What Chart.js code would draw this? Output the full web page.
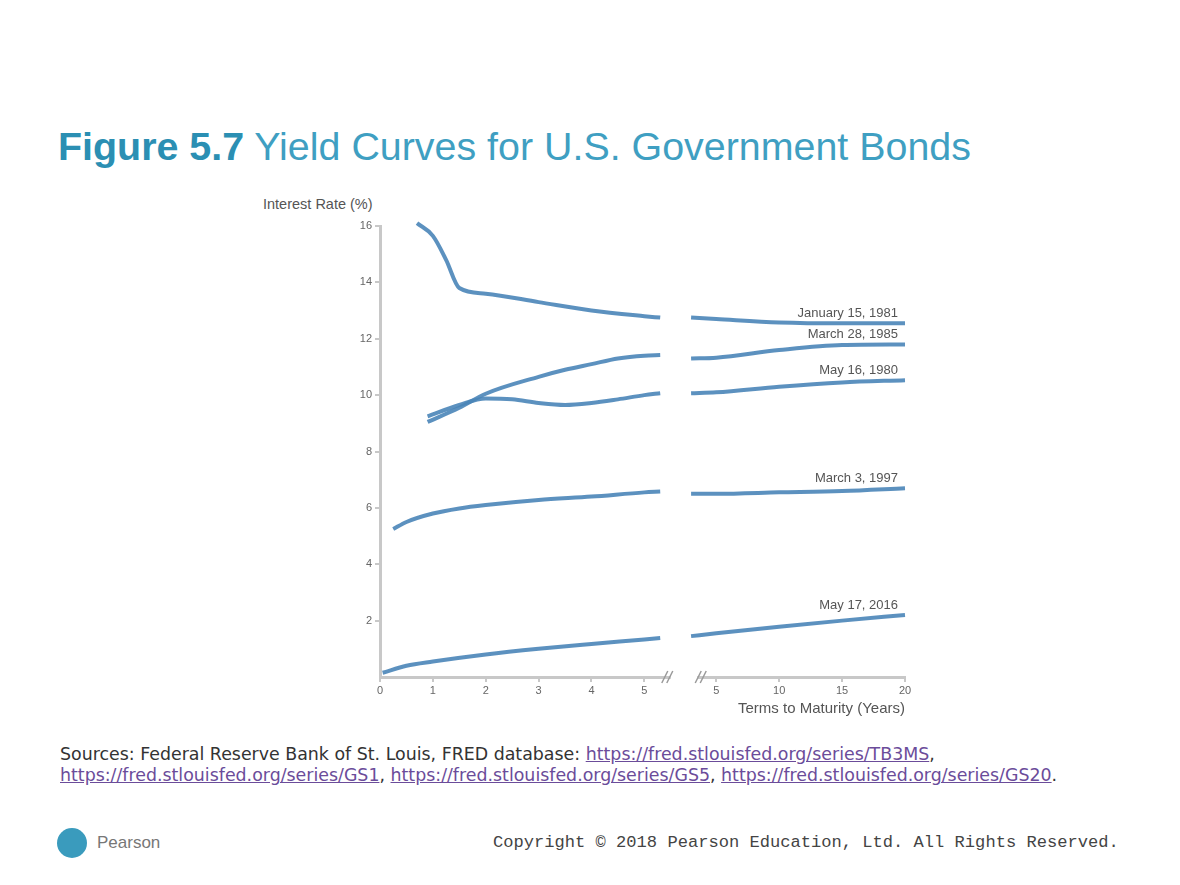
<!DOCTYPE html>
<html>
<head>
<meta charset="utf-8">
<script src="https://cdn.jsdelivr.net/npm/chart.js@4.4.1/dist/chart.umd.min.js"></script>
<style>
body { margin: 0; width: 1180px; height: 885px; background: #fff; position: relative; overflow: hidden; font-family: "Liberation Sans", Arial, sans-serif; }
#title { position: absolute; left: 58px; top: 127px; font-size: 39.4px; line-height: 39px; white-space: nowrap; color: #3f9fc2; }
#title b { color: #2b8fb3; }
#ytitle { position: absolute; left: 263px; top: 196px; font-size: 14.5px; color: #555; white-space: nowrap; }
#chartBox { position: absolute; left: 250px; top: 190px; width: 680px; height: 530px; }
#sources { position: absolute; left: 60px; top: 744px; font-family: "DejaVu Sans", sans-serif; font-size: 17.4px; line-height: 21px; color: #333; white-space: nowrap; }
#sources a { color: #6b4c9a; text-decoration: underline; }
#logo { position: absolute; left: 57px; top: 828px; width: 30px; height: 30px; border-radius: 50%; background: #3a9bbd; }
#pearson { position: absolute; left: 97px; top: 833px; font-size: 17px; color: #777; }
#copyright { position: absolute; left: 493px; top: 833px; font-family: "Liberation Mono", monospace; font-size: 17.1px; color: #444; white-space: nowrap; }
</style>
</head>
<body>
<div id="title"><b>Figure 5.7</b> Yield Curves for U.S. Government Bonds</div>
<div id="ytitle">Interest Rate (%)</div>
<div id="chartBox"><canvas id="yieldChart"></canvas></div>
<div id="sources">Sources: Federal Reserve Bank of St. Louis, FRED database: <a href="#">https://fred.stlouisfed.org/series/TB3MS</a>,<br><a href="#">https://fred.stlouisfed.org/series/GS1</a>, <a href="#">https://fred.stlouisfed.org/series/GS5</a>, <a href="#">https://fred.stlouisfed.org/series/GS20</a>.</div>
<div id="logo"></div>
<div id="pearson">Pearson</div>
<div id="copyright">Copyright © 2018 Pearson Education, Ltd. All Rights Reserved.</div>

<script>
// curve labels, top to bottom
const seriesLabels = ['January 15, 1981', 'March 28, 1985', 'May 16, 1980', 'March 3, 1997', 'May 17, 2016'];

// maturities (years) on the stretched part of the axis, shared by every curve
const farYears = [3, 5, 10, 15, 20];

const jan1981NearYears = [0.7, 1, 1.25, 1.5, 2, 3, 4, 5, 5.3];
const jan1981NearYields = [16.1, 15.65, 14.8, 13.8, 13.6, 13.3, 13.0, 12.8, 12.75];
const jan1981FarYields = [12.75, 12.7, 12.58, 12.55, 12.55];

const mar1985NearYears = [0.9, 1.5, 2, 3, 3.5, 4, 4.5, 5, 5.3];
const mar1985NearYields = [9.05, 9.55, 10.05, 10.65, 10.9, 11.1, 11.3, 11.4, 11.42];
const mar1985FarYields = [11.3, 11.33, 11.6, 11.78, 11.8];

const may1980NearYears = [0.9, 1.5, 2, 2.5, 3, 3.5, 4, 4.5, 5, 5.3];
const may1980NearYields = [9.25, 9.65, 9.88, 9.85, 9.72, 9.65, 9.72, 9.85, 10.0, 10.07];
const may1980FarYields = [10.07, 10.1, 10.3, 10.45, 10.53];

const mar1997NearYears = [0.25, 0.5, 1, 1.5, 2, 3, 4, 5, 5.3];
const mar1997NearYields = [5.25, 5.5, 5.8, 5.98, 6.1, 6.28, 6.4, 6.55, 6.58];
const mar1997FarYields = [6.5, 6.5, 6.55, 6.6, 6.7];

const may2016NearYears = [0.05, 0.5, 1, 2, 3, 4, 5, 5.3];
const may2016NearYields = [0.15, 0.4, 0.55, 0.8, 1.0, 1.17, 1.33, 1.38];
const may2016FarYields = [1.45, 1.55, 1.78, 2.0, 2.2];

// tick labels
const yTicks = [2, 4, 6, 8, 10, 12, 14, 16];
const nearTicks = [0, 1, 2, 3, 4, 5];
const farTicks = [5, 10, 15, 20];

// broken axis: years up to 5 at full scale, then 5..20 compressed
const FAR_ORIGIN = 6.36;   // axis unit of the "5" tick after the break
const FAR_SCALE = 0.238;   // axis units per year after the break
const GAP_AT = 5.6;        // where the curves are cut
const BREAK_FROM = 5.5;
const BREAK_TO = 6.0;

function toAxis(years, far) {
    return far ? FAR_ORIGIN + (years - 5) * FAR_SCALE : years;
}

const xTickList = nearTicks.map(t => ({ value: toAxis(t, false), label: String(t) }))
    .concat(farTicks.map(t => ({ value: toAxis(t, true), label: String(t) })));

function buildCurve(nearYears, nearYields, farYields) {
    const pts = nearYears.map((yr, i) => ({ x: toAxis(yr, false), y: nearYields[i] }));
    pts.push({ x: GAP_AT, y: null });
    return pts.concat(farYears.map((yr, i) => ({ x: toAxis(yr, true), y: farYields[i] })));
}

const curves = [
    buildCurve(jan1981NearYears, jan1981NearYields, jan1981FarYields),
    buildCurve(mar1985NearYears, mar1985NearYields, mar1985FarYields),
    buildCurve(may1980NearYears, may1980NearYields, may1980FarYields),
    buildCurve(mar1997NearYears, mar1997NearYields, mar1997FarYields),
    buildCurve(may2016NearYears, may2016NearYields, may2016FarYields)
];

const lineColor = 'rgba(74, 133, 184, 0.9)';
const axisColor = '#c8c8c8';

const curveLabelPlugin = {
    id: 'curveLabels',
    afterDatasetsDraw(chart) {
        const ctx = chart.ctx;
        ctx.save();
        ctx.font = '13px "Liberation Sans", Arial, sans-serif';
        ctx.fillStyle = '#555';
        ctx.textAlign = 'right';
        ctx.textBaseline = 'alphabetic';
        chart.data.datasets.forEach((ds, i) => {
            const meta = chart.getDatasetMeta(i);
            const last = meta.data[meta.data.length - 1];
            ctx.fillText(seriesLabels[i], last.x - 7, last.y - 6);
        });
        ctx.restore();
    }
};

const axisBreakPlugin = {
    id: 'axisBreak',
    afterDraw(chart) {
        const ctx = chart.ctx;
        const xs = chart.scales.x;
        const yb = chart.chartArea.bottom;
        const a = xs.getPixelForValue(BREAK_FROM);
        const b = xs.getPixelForValue(BREAK_TO);
        ctx.save();
        ctx.fillStyle = '#fff';
        ctx.fillRect(a, yb - 3, b - a, 7);
        ctx.strokeStyle = '#999';
        ctx.lineWidth = 1.5;
        [a - 6, a - 1, b + 1, b + 6].forEach(x => {
            ctx.beginPath();
            ctx.moveTo(x - 3, yb + 6);
            ctx.lineTo(x + 3, yb - 6);
            ctx.stroke();
        });
        ctx.restore();
    }
};

new Chart(document.getElementById('yieldChart'), {
    type: 'line',
    data: {
        datasets: curves.map((pts, i) => ({
            label: seriesLabels[i],
            data: pts,
            borderColor: lineColor,
            borderWidth: 4,
            pointRadius: 0,
            fill: false,
            spanGaps: false,
            cubicInterpolationMode: 'monotone',
            clip: false
        }))
    },
    options: {
        responsive: true,
        maintainAspectRatio: false,
        animation: false,
        layout: { padding: { left: 0, top: 36, right: 25, bottom: 0 } },
        plugins: { legend: { display: false }, tooltip: { enabled: false } },
        scales: {
            x: {
                type: 'linear',
                min: 0,
                max: toAxis(20, true),
                afterBuildTicks: s => { s.ticks = xTickList.map(t => ({ value: t.value })); },
                afterFit: s => { s.height = 43; },
                ticks: {
                    autoSkip: false,
                    maxRotation: 0,
                    color: '#666',
                    font: { size: 11, family: '"Liberation Sans", Arial, sans-serif' },
                    padding: 2,
                    callback: (v, i) => xTickList[i] ? xTickList[i].label : ''
                },
                grid: { drawOnChartArea: false, tickLength: 5, color: axisColor, lineWidth: 2 },
                border: { color: axisColor, width: 3 },
                title: {
                    display: true,
                    text: 'Terms to Maturity (Years)',
                    align: 'end',
                    color: '#555',
                    font: { size: 15, family: '"Liberation Sans", Arial, sans-serif' },
                    padding: { top: 0, bottom: 2 }
                }
            },
            y: {
                min: 0,
                max: 16,
                afterBuildTicks: s => { s.ticks = yTicks.map(v => ({ value: v })); },
                afterFit: s => { s.width = 130; },
                ticks: {
                    color: '#666',
                    font: { size: 11, family: '"Liberation Sans", Arial, sans-serif' },
                    padding: 3
                },
                grid: { drawOnChartArea: false, tickLength: 5, color: axisColor, lineWidth: 2 },
                border: { color: axisColor, width: 3 }
            }
        }
    },
    plugins: [curveLabelPlugin, axisBreakPlugin]
});
</script>
</body>
</html>
